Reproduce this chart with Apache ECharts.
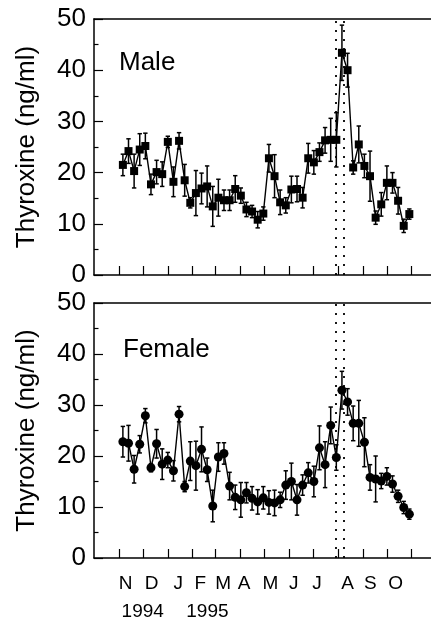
<!DOCTYPE html>
<html>
<head>
<meta charset="utf-8">
<script src="https://cdn.jsdelivr.net/npm/echarts@6/dist/echarts.min.js"></script>
<style>
  html, body { margin: 0; padding: 0; background: #ffffff; }
  #chart { width: 431px; height: 621px; }
</style>
</head>
<body>
<div id="chart"></div>
<script>
// Weekly sampling dates (Nov 1994 - Oct 1995)
const sampleDates = [
  '1994-11-06','1994-11-13','1994-11-20','1994-11-27','1994-12-04','1994-12-11','1994-12-18','1994-12-25',
  '1995-01-01','1995-01-08','1995-01-15','1995-01-22','1995-01-29','1995-02-05','1995-02-12','1995-02-19',
  '1995-02-26','1995-03-05','1995-03-12','1995-03-19','1995-03-26','1995-04-02','1995-04-09','1995-04-16',
  '1995-04-23','1995-04-30','1995-05-07','1995-05-14','1995-05-21','1995-05-28','1995-06-04','1995-06-11',
  '1995-06-18','1995-06-25','1995-07-02','1995-07-09','1995-07-16','1995-07-23','1995-07-30','1995-08-06',
  '1995-08-13','1995-08-20','1995-08-27','1995-09-03','1995-09-10','1995-09-17','1995-09-24','1995-10-01',
  '1995-10-08','1995-10-15','1995-10-22','1995-10-29'
];

// Plasma thyroxine, males (mean and SE, ng/ml)
const maleT4 = [
  21.5, 24.2, 20.3, 24.5, 25.2, 17.7, 20.1, 19.7, 26.0, 18.2, 26.2, 18.5, 14.1,
  16.0, 16.9, 17.3, 13.4, 15.1, 14.6, 14.6, 16.8, 15.5, 12.8, 12.4, 10.8, 12.0,
  22.8, 19.3, 14.2, 13.6, 16.7, 16.8, 15.1, 22.8, 22.0, 24.0, 26.3, 26.4, 26.4,
  43.4, 40.0, 21.0, 25.5, 21.3, 19.3, 11.2, 13.8, 18.0, 18.0, 14.5, 9.6, 11.9
];
const maleSE = [
  2.1, 2.4, 3.3, 3.1, 2.5, 2.0, 2.3, 2.4, 1.1, 2.9, 1.6, 3.1, 1.0,
  4.4, 3.0, 4.0, 3.9, 3.6, 2.0, 2.0, 2.6, 1.5, 1.4, 1.2, 1.6, 1.3,
  2.7, 4.2, 2.4, 1.5, 2.6, 2.5, 2.0, 2.9, 2.3, 1.8, 2.5, 4.2, 5.3,
  5.4, 3.3, 1.3, 3.6, 2.3, 4.9, 1.3, 2.3, 3.3, 2.0, 2.6, 1.3, 1.0
];

// Plasma thyroxine, females (mean and SE, ng/ml)
const femaleT4 = [
  22.8, 22.5, 17.4, 22.3, 27.9, 17.7, 22.4, 18.4, 19.2, 17.1, 28.2, 14.0, 19.0,
  18.1, 21.3, 17.3, 10.2, 19.8, 20.5, 14.1, 11.9, 11.4, 12.8, 11.7, 11.0, 11.8,
  10.9, 10.8, 11.4, 14.3, 15.0, 11.4, 14.3, 16.7, 15.0, 21.6, 18.3, 26.0, 19.7,
  32.9, 30.6, 26.4, 26.4, 22.7, 15.8, 15.5, 15.1, 16.0, 14.5, 12.1, 9.9, 8.6
];
const femaleSE = [
  3.0, 3.5, 2.7, 1.7, 1.4, 0.8, 2.8, 3.0, 1.5, 2.0, 1.5, 1.0, 3.8,
  4.8, 4.4, 2.3, 3.1, 2.8, 2.1, 2.7, 2.4, 3.4, 2.0, 2.3, 2.4, 2.2,
  2.3, 2.5, 1.5, 2.8, 3.6, 3.0, 2.0, 2.0, 3.0, 4.3, 4.5, 3.6, 2.5,
  3.7, 2.6, 3.4, 4.5, 4.8, 2.5, 4.5, 1.5, 1.7, 1.6, 1.2, 1.2, 1.0
];

const monthLabels = ['N', 'D', 'J', 'F', 'M', 'A', 'M', 'J', 'J', 'A', 'S', 'O'];
const yearLabels = ['1994', '1995'];
const monthStarts = [
  '1994-11-01','1994-12-01','1995-01-01','1995-02-01','1995-03-01','1995-04-01','1995-05-01',
  '1995-06-01','1995-07-01','1995-08-01','1995-09-01','1995-10-01','1995-11-01'
];
const markerDates = ['1995-07-29', '1995-08-08'];

// ---- helpers ----
const ORIGIN = Date.UTC(1994, 10, 1);
function dayOf(s) {
  const p = s.split('-').map(Number);
  return (Date.UTC(p[0], p[1] - 1, p[2]) - ORIGIN) / 864e5;
}
const days = sampleDates.map(dayOf);
const tickDays = monthStarts.map(dayOf);
const markerDays = markerDates.map(dayOf);

// where each month letter and year caption sits along the time axis (in days)
const monthLabelAt = [8.5, 40.7, 73.9, 101.5, 130, 156, 189, 218, 247, 285, 313.5, 345];
const yearLabelAt = [29.7, 110.3];

const FONT = '"Liberation Sans", Arial, Helvetica, sans-serif';
const X_MIN = -31, X_MAX = 389;
const grids = [
  { left: 94, top: 19, width: 337, height: 256 },
  { left: 94, top: 303, width: 337, height: 255 }
];

function bottomX(gi) {
  return {
    type: 'value', gridIndex: gi, position: 'bottom', min: X_MIN, max: X_MAX,
    axisLine: { show: true, onZero: false, lineStyle: { color: '#000', width: 1.5 } },
    axisTick: { show: true, inside: true, length: 9, customValues: tickDays,
      lineStyle: { color: '#000', width: 1.2 } },
    axisLabel: { show: false },
    splitLine: { show: false }
  };
}
function topX(gi) {
  return {
    type: 'value', gridIndex: gi, position: 'top', min: X_MIN, max: X_MAX,
    axisLine: { show: true, onZero: false, lineStyle: { color: '#000', width: 1.5 } },
    axisTick: { show: false }, axisLabel: { show: false }, splitLine: { show: false }
  };
}
function leftY(gi) {
  return {
    type: 'value', gridIndex: gi, min: 0, max: 50, interval: 10,
    name: 'Thyroxine (ng/ml)', nameLocation: 'middle', nameRotate: 90, nameGap: 54,
    nameTextStyle: { fontFamily: FONT, fontSize: 26, color: '#000' },
    axisLine: { show: true, onZero: false, lineStyle: { color: '#000', width: 1.5 } },
    axisTick: { show: true, inside: true, length: 9, lineStyle: { color: '#000', width: 1.2 } },
    minorTick: { show: true, splitNumber: 2, length: 4.5, lineStyle: { color: '#000', width: 1.2 } },
    axisLabel: { show: true, margin: 8, fontFamily: FONT, fontSize: 26, color: '#000' },
    splitLine: { show: false }, minorSplitLine: { show: false }
  };
}

function errorBars(xi, yi, values, errs) {
  return {
    type: 'custom', xAxisIndex: xi, yAxisIndex: yi, z: 2, silent: true,
    data: days.map(function (d, i) { return [d, values[i] - errs[i], values[i] + errs[i]]; }),
    encode: { x: 0, y: [1, 2] },
    renderItem: function (params, api) {
      const lo = api.coord([api.value(0), api.value(1)]);
      const hi = api.coord([api.value(0), api.value(2)]);
      const c = 2.2;
      const st = { stroke: '#000', lineWidth: 1.5 };
      return {
        type: 'group', children: [
          { type: 'line', shape: { x1: lo[0], y1: lo[1], x2: hi[0], y2: hi[1] }, style: st },
          { type: 'line', shape: { x1: hi[0] - c, y1: hi[1], x2: hi[0] + c, y2: hi[1] }, style: st },
          { type: 'line', shape: { x1: lo[0] - c, y1: lo[1], x2: lo[0] + c, y2: lo[1] }, style: st }
        ]
      };
    }
  };
}

function meanLine(xi, yi, values, symbol, size) {
  return {
    type: 'line', xAxisIndex: xi, yAxisIndex: yi, z: 3,
    data: days.map(function (d, i) { return [d, values[i]]; }),
    symbol: symbol, symbolSize: size, showAllSymbol: true,
    lineStyle: { color: '#000', width: 1.4 },
    itemStyle: { color: '#000' },
    markLine: {
      silent: true, symbol: ['none', 'none'], label: { show: false },
      lineStyle: { color: '#000', type: [2, 7], width: 1.8 },
      data: markerDays.map(function (d) { return { xAxis: d }; })
    }
  };
}

const chart = echarts.init(document.getElementById('chart'), null, { renderer: 'canvas' });
chart.setOption({
  animation: false,
  backgroundColor: '#ffffff',
  grid: grids,
  xAxis: [bottomX(0), topX(0), bottomX(1), topX(1)],
  yAxis: [leftY(0), leftY(1)],
  series: [
    errorBars(0, 0, maleT4, maleSE),
    meanLine(0, 0, maleT4, 'rect', 8),
    errorBars(2, 1, femaleT4, femaleSE),
    meanLine(2, 1, femaleT4, 'circle', 9)
  ]
});

// month letters and year captions under the lower panel, plus the panel names
const monthY = 584, yearY = 612;
function captionAt(day, text, y) {
  return {
    type: 'text', x: chart.convertToPixel({ xAxisIndex: 2 }, day), y: y,
    style: { text: text, fontFamily: FONT, fontSize: 19, fill: '#000', align: 'center', verticalAlign: 'middle' }
  };
}
chart.setOption({
  graphic: [
    { type: 'text', left: 119, top: 50, style: { text: 'Male', fontFamily: FONT, fontSize: 26, fill: '#000' } },
    { type: 'text', left: 123, top: 337, style: { text: 'Female', fontFamily: FONT, fontSize: 26, fill: '#000' } }
  ]
    .concat(monthLabels.map(function (t, i) { return captionAt(monthLabelAt[i], t, monthY); }))
    .concat(yearLabels.map(function (t, i) { return captionAt(yearLabelAt[i], t, yearY); }))
});
</script>
</body>
</html>
